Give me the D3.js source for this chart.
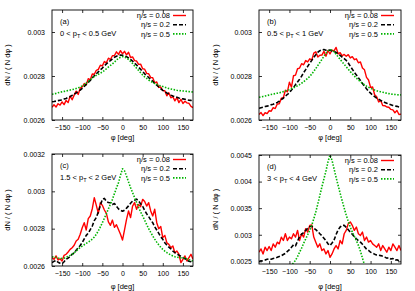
<!DOCTYPE html>
<html>
<head>
<meta charset="utf-8">
<script src="https://cdn.jsdelivr.net/npm/d3@7"></script>
<style>
  body { margin: 0; background: #fff; }
  svg { font-family: "Liberation Sans", Arial, Helvetica, sans-serif; }
</style>
</head>
<body>
<svg id="chart" width="415" height="291"></svg>
<script>
// azimuthal angle grid (deg), values below are dN/(N dphi) in units of 1e-5
const phi = d3.range(-175, 176, 5);
const UNIT = 1e-5;

const seriesNames = ['η/s = 0.08', 'η/s = 0.2', 'η/s = 0.5'];
const panelTags = ['(a)', '(b)', '(c)', '(d)'];
const ptRanges = [['0', '0.5'], ['0.5', '1'], ['1.5', '2'], ['3', '4']];

const xTicks = [-150, -100, -50, 0, 50, 100, 150];
const yTicksAB = [0.0026, 0.0028, 0.003];
const yTicksC = [0.0026, 0.0028, 0.003, 0.0032];
const yTicksD = [0.0025, 0.003, 0.0035, 0.004, 0.0045];

// panel (a) 0 < pT < 0.5 GeV
const redA = [265.8,266.9,265.9,267.4,266.8,268.2,267.0,268.9,267.9,270.9,269.2,271.3,273.1,271.6,274.5,275.0,276.6,276.0,278.8,278.3,280.9,280.8,282.6,283.0,284.9,284.6,286.6,286.0,288.1,287.5,289.2,289.3,291.0,289.8,291.5,290.1,291.2,289.6,290.8,288.4,288.7,287.0,286.8,285.3,285.4,283.3,283.1,281.2,281.0,279.4,279.2,276.9,277.3,274.8,275.0,273.4,273.3,271.0,272.4,270.1,270.6,268.7,270.2,267.9,269.4,267.5,268.5,267.8,267.6,266.2,265.6];
const blackA = [268.3,268.4,268.6,268.8,269.0,269.1,269.5,269.8,270.3,270.6,271.2,271.8,272.3,273.0,273.6,274.4,275.3,276.2,277.1,278.0,279.2,280.1,281.0,281.9,282.8,283.6,284.6,285.5,286.4,287.0,287.8,288.5,289.0,289.3,289.5,289.4,289.2,288.8,288.2,287.5,286.8,285.8,285.0,284.0,283.0,282.0,281.0,280.2,279.3,278.5,277.6,276.7,275.8,275.0,274.2,273.5,272.9,272.3,271.8,271.3,270.9,270.6,270.3,270.0,269.8,269.6,269.4,269.2,269.0,268.9,268.7];
const greenA = [271.7,271.9,272.1,272.4,272.6,272.8,273.0,273.2,273.4,273.6,273.8,274.0,274.3,274.6,275.0,275.5,276.1,276.8,277.5,278.3,279.0,279.7,280.3,280.8,281.3,281.8,282.5,283.3,284.1,284.8,285.5,286.3,287.3,288.0,288.5,288.8,288.6,288.2,287.5,286.6,285.7,284.6,283.5,282.5,281.5,280.5,279.6,278.9,278.2,277.6,277.1,276.6,276.2,275.8,275.5,275.2,274.9,274.6,274.3,274.1,273.9,273.7,273.5,273.4,273.3,273.2,273.1,273.0,272.9,272.8,272.7];

// panel (b) 0.5 < pT < 1 GeV
const redB = [262.5,263.4,262.0,263.3,262.9,264.2,264.0,265.6,265.2,267.3,267.4,269.9,270.1,273.5,272.8,277.2,274.9,280.1,280.4,283.3,283.6,285.6,285.1,287.0,286.4,287.8,287.2,290.4,291.0,288.6,289.4,289.5,291.2,289.0,291.6,290.0,291.8,291.4,293.0,290.1,290.6,289.2,289.8,289.0,289.7,288.2,288.8,287.4,287.8,286.0,286.4,283.6,282.8,279.4,278.2,274.8,275.0,271.5,270.6,268.2,268.9,266.6,266.5,265.9,265.8,264.8,264.6,263.3,264.3,262.5,262.7];
const blackB = [265.3,265.6,265.8,266.1,266.3,266.5,266.9,267.2,267.6,268.0,268.5,269.3,269.9,270.9,271.6,272.4,273.6,274.7,276.1,277.3,278.5,279.9,281.5,282.9,284.4,285.8,287.1,288.5,289.7,290.8,291.5,291.9,292.0,291.7,291.6,291.8,291.4,291.2,290.7,290.1,289.4,288.6,287.9,287.1,285.9,284.4,283.1,281.6,280.5,279.2,278.0,276.6,275.4,274.2,273.1,272.2,271.3,270.6,269.9,269.4,268.9,268.4,268.0,267.6,267.2,266.9,266.6,266.4,266.2,265.9,265.7];
const greenB = [270.3,270.5,270.7,270.9,271.1,271.4,271.6,271.8,272.0,272.2,272.4,272.6,272.9,273.2,273.5,273.8,274.2,274.6,275.1,275.6,276.1,276.7,277.4,278.1,278.9,279.8,280.9,282.1,283.4,284.8,286.1,287.5,289.0,290.3,291.4,292.0,291.8,291.0,289.9,288.7,287.6,286.4,285.3,284.2,283.1,282.0,281.0,280.0,279.0,278.2,277.4,276.7,276.0,275.4,274.9,274.4,274.0,273.6,273.3,273.0,272.8,272.6,272.4,272.2,272.0,271.8,271.7,271.6,271.5,271.4,271.4];

// panel (c) 1.5 < pT < 2 GeV
const redC = [264.5,263.6,265.4,263.2,263.9,262.7,265.7,266.3,267.5,268.9,269.8,271.1,273.4,274.3,277.0,280.5,283.2,279.3,285.4,286.8,290.7,296.6,292.5,288.2,293.9,292.5,290.0,288.2,283.6,281.8,284.6,280.7,282.1,279.6,277.0,273.9,279.3,285.0,289.5,285.9,292.1,293.9,290.4,293.0,291.8,295.7,294.6,292.1,293.9,289.5,286.8,290.4,283.2,280.0,281.1,275.2,276.4,272.5,271.6,269.8,270.7,267.1,268.0,266.3,261.8,263.6,265.4,262.7,264.5,266.3,263.6];
const blackC = [261.8,262.5,263.0,262.0,261.5,261.2,262.3,263.6,264.3,265.0,266.3,267.0,268.4,269.8,271.0,272.5,274.5,276.4,277.6,279.5,281.4,284.3,286.0,289.0,292.4,295.7,296.2,294.6,294.0,293.9,293.0,293.5,292.0,290.6,289.8,289.3,289.9,291.0,292.2,293.6,294.8,295.2,295.8,294.9,293.3,292.0,289.8,288.0,286.5,284.7,283.2,281.0,279.3,277.5,275.6,274.3,272.5,271.2,270.1,269.2,268.0,267.2,266.5,265.8,265.2,264.5,263.9,263.2,262.5,262.3,261.8];
const greenC = [265.0,264.8,264.6,264.3,264.1,264.0,264.2,264.6,265.2,265.7,266.3,267.1,268.0,269.0,269.9,270.7,271.4,272.1,272.8,273.5,274.4,275.5,277.0,278.8,280.9,283.2,285.6,288.1,290.6,293.2,295.7,298.8,301.8,304.6,308.6,312.1,311.0,308.2,305.0,302.0,299.3,296.6,294.0,291.4,289.0,286.8,284.5,282.2,280.0,278.0,276.1,274.4,272.8,271.3,270.0,268.9,268.0,267.2,266.5,265.9,265.4,265.0,264.7,264.5,264.4,264.5,264.2,263.8,263.4,263.0,262.7];

// panel (d) 3 < pT < 4 GeV
const redD = [267.1,273.4,263.9,276.6,270.3,277.9,270.3,282.9,276.6,286.1,282.9,295.6,289.2,301.9,289.2,295.6,292.4,301.9,295.6,308.2,289.2,301.9,295.6,311.4,305.1,317.7,318.5,295.6,286.1,276.6,282.9,270.3,273.4,263.9,270.3,257.6,263.9,273.4,279.7,273.4,289.2,282.9,301.9,308.2,320.9,324.1,317.7,308.2,314.6,301.9,298.7,305.1,289.2,295.6,286.1,289.2,282.9,279.7,276.6,282.9,270.3,279.7,273.4,267.1,276.6,270.3,282.9,276.6,270.3,279.7,270.3];
const blackD = [249.5,251.0,250.5,252.3,253.8,254.6,254.0,255.2,256.1,257.5,259.0,260.4,262.8,265.0,268.7,272.0,276.5,281.0,279.2,288.0,296.5,301.0,304.0,308.2,312.0,315.0,316.0,312.5,309.5,306.0,302.0,298.2,293.5,289.0,283.0,279.7,284.5,290.0,300.5,309.0,314.6,317.5,317.7,314.0,309.5,305.1,301.0,296.2,292.5,289.0,286.1,282.0,277.5,273.0,270.5,267.1,265.5,263.5,262.0,261.5,260.8,259.5,258.0,256.0,257.0,254.4,255.3,252.0,253.0,251.0,250.5];
const greenD = [221,222,223,224,225,226,227,228,229,230,231,233,235,237,239,241,243.5,247,252,259,267,275,284,292,300,308,318,330,343,358,374,390,405,420,437,450,440,424,408,393,378,364,350,337,325,314,305,297,289,280,269,256,243,236,232,229,228,227,226,225,224,224,223,223,222,222,221,221,220,220,220];

const panelSeries = [
  [redA, blackA, greenA],
  [redB, blackB, greenB],
  [redC, blackC, greenC],
  [redD, blackD, greenD]
];
const yDomains = [[0.0026, 0.0031], [0.0026, 0.0031], [0.0026, 0.0032], [0.00245, 0.0045]];
const yTickSets = [yTicksAB, yTicksAB, yTicksC, yTicksD];

// plot frames
const frames = [
  { x0: 52, x1: 193, y0: 10, y1: 120 },
  { x0: 259, x1: 401, y0: 10, y1: 120 },
  { x0: 52, x1: 193, y0: 154, y1: 266 },
  { x0: 259, x1: 401, y0: 155, y1: 264 }
];

const styles = [
  { color: '#ff0000', width: 1.4, dash: null },
  { color: '#000000', width: 1.6, dash: '4,2' },
  { color: '#00b400', width: 1.6, dash: '1.5,1.5' }
];

const svg = d3.select('#chart');
const fmt = d => String(+d.toFixed(5));

frames.forEach((f, i) => {
  const x = d3.scaleLinear().domain([-175, 175]).range([f.x0, f.x1]);
  const y = d3.scaleLinear().domain(yDomains[i]).range([f.y1, f.y0]);
  const g = svg.append('g');

  g.append('clipPath').attr('id', 'clip' + i)
    .append('rect')
    .attr('x', f.x0).attr('y', f.y0)
    .attr('width', f.x1 - f.x0).attr('height', f.y1 - f.y0);

  // curves
  const line = d3.line()
    .x((d, j) => x(phi[j]))
    .y(d => y(d * UNIT));

  const curves = g.append('g').attr('clip-path', `url(#clip${i})`);
  panelSeries[i].forEach((s, k) => {
    curves.append('path')
      .datum(s)
      .attr('d', line)
      .attr('fill', 'none')
      .attr('stroke', styles[k].color)
      .attr('stroke-width', styles[k].width)
      .attr('stroke-dasharray', styles[k].dash)
      .attr('stroke-linejoin', 'round');
  });

  // axes, ticks pointing inward on all sides
  const styleAxis = sel => {
    sel.select('.domain').remove();
    sel.attr('font-family', null).attr('font-size', 7);
    sel.selectAll('line').attr('stroke-width', 0.8);
    sel.selectAll('text').attr('fill', '#000');
  };
  g.append('g').attr('transform', `translate(0,${f.y1})`)
    .call(d3.axisBottom(x).tickValues(xTicks).tickSize(-3).tickPadding(5).tickFormat(d3.format('d')))
    .call(styleAxis);
  g.append('g').attr('transform', `translate(0,${f.y0})`)
    .call(d3.axisTop(x).tickValues(xTicks).tickSize(-3).tickFormat(''))
    .call(styleAxis);
  g.append('g').attr('transform', `translate(${f.x0},0)`)
    .call(d3.axisLeft(y).tickValues(yTickSets[i]).tickSize(-3).tickPadding(7).tickFormat(fmt))
    .call(styleAxis);
  g.append('g').attr('transform', `translate(${f.x1},0)`)
    .call(d3.axisRight(y).tickValues(yTickSets[i]).tickSize(-3).tickFormat(''))
    .call(styleAxis);

  g.append('rect')
    .attr('x', f.x0).attr('y', f.y0)
    .attr('width', f.x1 - f.x0).attr('height', f.y1 - f.y0)
    .attr('fill', 'none').attr('stroke', '#000').attr('stroke-width', 0.9);

  // legend
  seriesNames.forEach((name, k) => {
    const ry = f.y0 + 5.5 + k * 9.2;
    g.append('text')
      .attr('x', f.x1 - 23).attr('y', ry + 2.6)
      .attr('text-anchor', 'end').attr('font-size', 7.5)
      .text(name);
    g.append('line')
      .attr('x1', f.x1 - 20).attr('x2', f.x1 - 7)
      .attr('y1', ry).attr('y2', ry)
      .attr('stroke', styles[k].color)
      .attr('stroke-width', styles[k].width)
      .attr('stroke-dasharray', styles[k].dash);
  });

  // panel tag and pT window
  g.append('text')
    .attr('x', f.x0 + 8).attr('y', f.y0 + 13.5)
    .attr('font-size', 7.5).text(panelTags[i]);
  const pt = g.append('text')
    .attr('x', f.x0 + 8).attr('y', f.y0 + 25.5)
    .attr('font-size', 7.5);
  pt.append('tspan').text(ptRanges[i][0] + ' < p');
  pt.append('tspan').attr('font-size', 5.5).attr('dy', 2).text('T');
  pt.append('tspan').attr('dy', -2).text(' < ' + ptRanges[i][1] + ' GeV');

  // axis titles
  const bottomRow = i >= 2;
  g.append('text')
    .attr('x', (f.x0 + f.x1) / 2)
    .attr('y', bottomRow ? 288.5 : 139.5)
    .attr('text-anchor', 'middle').attr('font-size', 7.5)
    .text('φ [deg]');
  const lx = (i % 2 === 0) ? 10 : 217.5;
  g.append('text')
    .attr('transform', `translate(${lx},${(f.y0 + f.y1) / 2}) rotate(-90)`)
    .attr('text-anchor', 'middle').attr('font-size', 7.5)
    .text('dN / ( N dφ )');
});
</script>
</body>
</html>
